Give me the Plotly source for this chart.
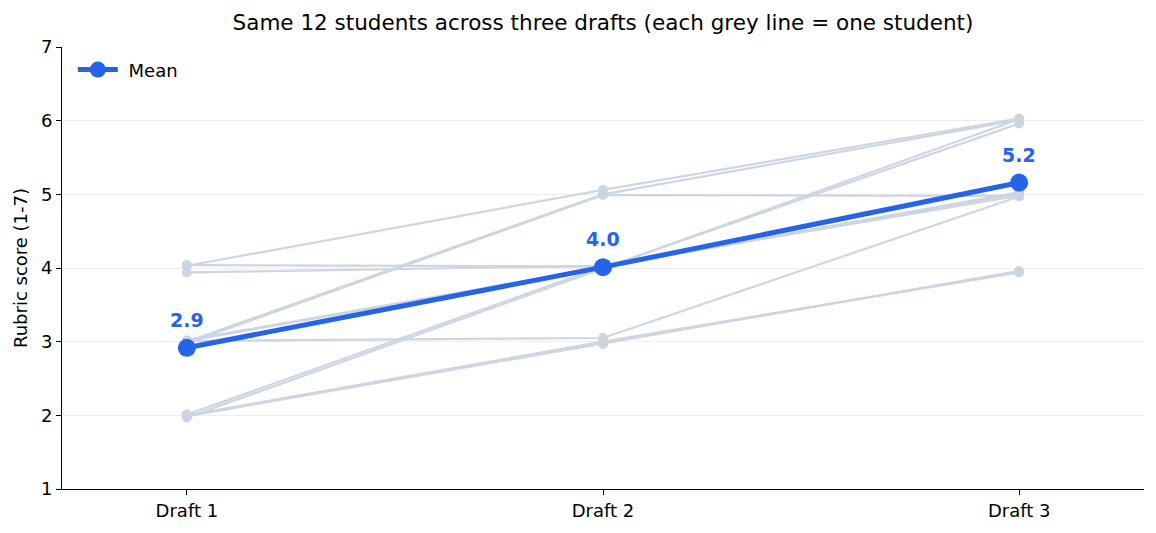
import plotly.graph_objects as go
import numpy as np

drafts = ["Draft 1", "Draft 2", "Draft 3"]
# each student's score at Draft 1, 2, 3 (small display jitter)
draft1 = [4.03, 4.04, 3.94, 3.00, 2.98, 3.02, 3.01, 3.01, 1.97, 2.01, 1.99, 2.00]
draft2 = [5.06, 4.02, 4.03, 5.00, 4.99, 4.01, 4.00, 3.05, 3.99, 4.02, 2.97, 3.00]
draft3 = [6.03, 5.02, 4.98, 6.01, 4.98, 5.03, 5.96, 4.97, 6.02, 5.01, 3.96, 3.94]
y_ticks = [1, 2, 3, 4, 5, 6, 7]

GREY = "#cbd5e1"
BLUE = "#2563eb"
FONT = "DejaVu Sans"

fig = go.Figure()
for a, b, c in zip(draft1, draft2, draft3):
    fig.add_trace(go.Scatter(
        x=drafts, y=[a, b, c], mode="lines+markers",
        line=dict(color=GREY, width=2.2), marker=dict(color=GREY, size=10),
        opacity=0.95, showlegend=False, hoverinfo="skip"))

means = [float(np.mean(draft1)), float(np.mean(draft2)), float(np.mean(draft3))]
fig.add_trace(go.Scatter(
    x=drafts, y=means, mode="lines+markers", name="\u00a0Mean",
    line=dict(color=BLUE, width=5), marker=dict(color=BLUE, size=18)))

for d, m in zip(drafts, means):
    fig.add_annotation(x=d, y=m, text=f"<b>{m:.1f}</b>", showarrow=False,
                       yshift=28, font=dict(color=BLUE, size=19, family=FONT))

fig.update_layout(
    width=1156, height=533,
    margin=dict(l=62, r=12, t=47, b=44),
    paper_bgcolor="white", plot_bgcolor="white",
    font=dict(family=FONT, size=17, color="black"),
    title=dict(text="Same 12 students across three drafts (each grey line = one student)",
               x=603 / 1156, xanchor="center",
               y=1 - 22 / 533, yanchor="middle", font=dict(size=21.5)),
    legend=dict(x=0.01, y=0.99, xanchor="left", yanchor="top", itemwidth=40,
                bgcolor="rgba(255,255,255,0)", font=dict(size=18)),
    xaxis=dict(type="category", range=[-0.3, 2.3], showline=True, linecolor="black",
               linewidth=1, ticks="outside", ticklen=5, tickcolor="black",
               showgrid=False, zeroline=False, tickfont=dict(size=18)),
    yaxis=dict(range=[1, 7], tickvals=y_ticks, showline=True, linecolor="black",
               linewidth=1, ticks="outside", ticklen=5, tickcolor="black",
               showgrid=True, gridcolor="#eeeeee", zeroline=False,
               title=dict(text="Rubric score (1-7)", font=dict(size=18), standoff=8),
               tickfont=dict(size=18)),
)

fig.write_html("out.html")
